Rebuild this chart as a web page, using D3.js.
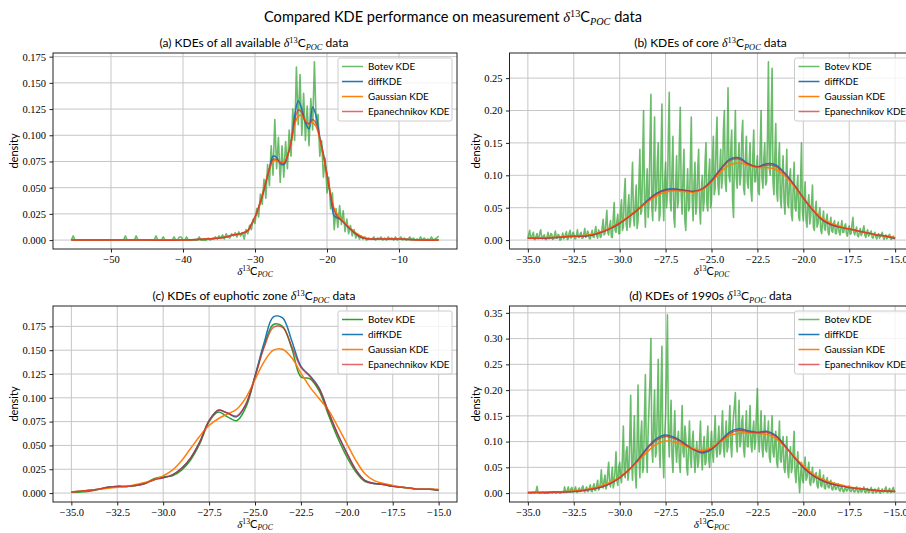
<!DOCTYPE html>
<html>
<head>
<meta charset="utf-8">
<script src="https://d3js.org/d3.v7.min.js"></script>
<style>
  body { margin: 0; background: #fff; }
  text { font-family: Lato, 'Open Sans', sans-serif; fill: #000; }
  .serif { font-family: 'Liberation Serif', 'DejaVu Serif', serif; }
</style>
</head>
<body>
<script>
// ---------- data ----------
var seriesNames = ['Botev KDE', 'diffKDE', 'Gaussian KDE', 'Epanechnikov KDE'];
var seriesColors = ['#2ca02c', '#1f77b4', '#ff7f0e', '#d62728'];

// panel (a): all available data
var gridA = [-55.5, -50, -45, -40, -37, -35, -34, -33, -32, -31,
  -30.5, -30, -29.5, -29, -28.5, -28, -27.5, -27, -26.5, -26,
  -25.5, -25, -24.5, -24, -23.5, -23, -22.5, -22, -21.5, -21,
  -20.5, -20, -19.5, -19, -18.5, -18, -17, -16, -15, -14,
  -12, -10, -7, -4.5];
var diffA = [0, 0, 0, 0, 0.001, 0.002, 0.003, 0.005, 0.006, 0.009,
  0.015, 0.022, 0.031, 0.042, 0.055, 0.068, 0.080, 0.079, 0.073, 0.072,
  0.080, 0.093, 0.118, 0.133, 0.125, 0.112, 0.106, 0.127, 0.118, 0.098,
  0.082, 0.063, 0.042, 0.023, 0.021, 0.019, 0.012, 0.006, 0.002, 0.001,
  0.001, 0.001, 0, 0];
var gaussA = [0, 0, 0, 0, 0.001, 0.002, 0.003, 0.005, 0.006, 0.009,
  0.015, 0.022, 0.031, 0.043, 0.056, 0.068, 0.075, 0.076, 0.074, 0.074,
  0.080, 0.093, 0.110, 0.118, 0.119, 0.114, 0.111, 0.112, 0.108, 0.096,
  0.080, 0.062, 0.044, 0.030, 0.024, 0.020, 0.013, 0.007, 0.003, 0.001,
  0.001, 0.001, 0, 0];
var epanA = [0, 0, 0, 0, 0.001, 0.002, 0.003, 0.005, 0.006, 0.009,
  0.015, 0.022, 0.031, 0.042, 0.055, 0.068, 0.077, 0.077, 0.074, 0.073,
  0.080, 0.093, 0.113, 0.124, 0.122, 0.113, 0.111, 0.115, 0.111, 0.097,
  0.081, 0.062, 0.043, 0.028, 0.022, 0.019, 0.012, 0.006, 0.002, 0.001,
  0.001, 0.001, 0, 0];
var botevAStart = -55.5, botevAStep = 0.25;
var botevA = [
  0, 0.004, 0, 0, 0, 0, 0, 0, 0, 0,
  0, 0, 0, 0, 0, 0, 0, 0, 0, 0,
  0, 0, 0, 0, 0, 0, 0, 0, 0, 0,
  0.004, 0, 0, 0, 0, 0, 0.004, 0, 0, 0,
  0, 0, 0, 0, 0, 0, 0, 0.004, 0, 0,
  0, 0.003, 0, 0, 0, 0, 0, 0.003, 0, 0,
  0.003, 0.003, 0, 0, 0.003, 0, 0, 0, 0, 0,
  0, 0.003, 0, 0, 0, 0, 0.002, 0, 0.001,
  0.001, 0.003, 0.001, 0.004, 0.002, 0.005, 0.001, 0.006, 0.003, 0.002,
  0.006, 0.004, 0.007, 0.003, 0.008, 0.004, 0.007, 0.001, 0.010, 0.006,
  0.014, 0.010, 0.020, 0.016, 0.030, 0.022, 0.044, 0.034, 0.058, 0.040,
  0.072, 0.052, 0.090, 0.062, 0.115, 0.068, 0.098, 0.055, 0.090, 0.060,
  0.094, 0.068, 0.105, 0.080, 0.125, 0.095, 0.165, 0.110, 0.158, 0.100,
  0.140, 0.095, 0.128, 0.090, 0.135, 0.105, 0.170, 0.110, 0.120, 0.080,
  0.095, 0.060, 0.078, 0.045, 0.060, 0.030, 0.045, 0.010, 0.030, 0.012,
  0.033, 0.015, 0.028, 0.008, 0.020, 0.006, 0.014, 0.004, 0.010, 0.002,
  0.006, 0.001, 0.004, 0.001, 0.003, 0.000, 0.002, 0.001,
  0.001, 0.003, 0.000, 0.002, 0.001, 0.003, 0.000, 0.002, 0.000, 0.003,
  0.001, 0.002, 0.000, 0.003, 0.000, 0.001, 0.003, 0.000, 0.002, 0.000,
  0.001, 0.003, 0.000, 0.002, 0.000, 0.001, 0.000, 0.003, 0.000, 0.002,
  0.000, 0.001, 0.000, 0.003, 0.000, 0.001, 0.002, 0.004];

// panels (b), (c), (d) share this grid
var gridCore = [-35, -34.5, -34, -33.5, -33, -32.5, -32, -31.5, -31, -30.5,
  -30, -29.5, -29, -28.5, -28, -27.5, -27, -26.5, -26, -25.5,
  -25, -24.5, -24, -23.5, -23, -22.5, -22, -21.5, -21, -20.5,
  -20, -19.5, -19, -18.5, -18, -17.5, -17, -16.5, -16, -15.5, -15];

// panel (b): core data
var diffB = [0.003, 0.003, 0.003, 0.004, 0.005, 0.006, 0.006, 0.008, 0.012, 0.018,
  0.026, 0.036, 0.048, 0.061, 0.072, 0.078, 0.079, 0.077, 0.075, 0.079,
  0.092, 0.110, 0.125, 0.127, 0.118, 0.113, 0.118, 0.116, 0.103, 0.085,
  0.065, 0.047, 0.032, 0.024, 0.020, 0.017, 0.014, 0.011, 0.008, 0.006, 0.003];
var gaussB = [0.003, 0.003, 0.004, 0.004, 0.005, 0.006, 0.007, 0.009, 0.013, 0.019,
  0.027, 0.037, 0.048, 0.059, 0.068, 0.074, 0.076, 0.075, 0.074, 0.078,
  0.090, 0.105, 0.116, 0.119, 0.116, 0.112, 0.112, 0.109, 0.099, 0.083,
  0.065, 0.048, 0.034, 0.026, 0.021, 0.017, 0.014, 0.011, 0.008, 0.006, 0.004];
var epanB = [0.003, 0.003, 0.003, 0.004, 0.005, 0.006, 0.006, 0.008, 0.012, 0.018,
  0.026, 0.036, 0.047, 0.060, 0.071, 0.077, 0.078, 0.077, 0.075, 0.079,
  0.091, 0.109, 0.123, 0.125, 0.117, 0.113, 0.116, 0.114, 0.102, 0.085,
  0.065, 0.047, 0.032, 0.024, 0.020, 0.017, 0.014, 0.011, 0.008, 0.006, 0.003];
var botevNoisyStart = -35, botevNoisyStep = 0.05;
var botevB = [
  0.002, 0.009, 0.015, 0.003, 0.004, 0.008, 0.012, 0.001, 0.001, 0.006, 0.010, 0.002, 0.003, 0.011, 0.016, 0.004, 0.002, 0.007, 0.008, 0.001,
  0.001, 0.006, 0.012, 0.002, 0.004, 0.010, 0.009, 0.001, 0.002, 0.008, 0.014, 0.003, 0.003, 0.009, 0.007, 0.000, 0.001, 0.005, 0.011, 0.002,
  0.004, 0.009, 0.013, 0.001, 0.002, 0.011, 0.015, 0.003, 0.005, 0.012, 0.010, 0.002, 0.002, 0.008, 0.016, 0.004, 0.004, 0.010, 0.012, 0.003,
  0.003, 0.010, 0.018, 0.004, 0.006, 0.014, 0.011, 0.002, 0.002, 0.009, 0.015, 0.005, 0.004, 0.013, 0.021, 0.006, 0.003, 0.016, 0.012, 0.004,
  0.006, 0.020, 0.032, 0.008, 0.010, 0.028, 0.046, 0.012, 0.008, 0.022, 0.030, 0.005, 0.004, 0.035, 0.058, 0.015, 0.012, 0.030, 0.040, 0.010,
  0.010, 0.045, 0.062, 0.015, 0.020, 0.070, 0.095, 0.025, 0.015, 0.050, 0.070, 0.020, 0.030, 0.080, 0.120, 0.035, 0.022, 0.060, 0.085, 0.018,
  0.030, 0.090, 0.140, 0.040, 0.045, 0.120, 0.200, 0.060, 0.020, 0.080, 0.110, 0.035, 0.060, 0.150, 0.225, 0.050, 0.030, 0.110, 0.190, 0.045,
  0.060, 0.120, 0.150, 0.030, 0.040, 0.130, 0.210, 0.070, 0.030, 0.090, 0.120, 0.050, 0.070, 0.160, 0.228, 0.060, 0.045, 0.110, 0.160, 0.035,
  0.020, 0.085, 0.130, 0.050, 0.060, 0.150, 0.205, 0.070, 0.040, 0.100, 0.140, 0.030, 0.015, 0.070, 0.110, 0.045, 0.050, 0.120, 0.190, 0.060,
  0.030, 0.090, 0.120, 0.040, 0.055, 0.110, 0.140, 0.050, 0.025, 0.080, 0.100, 0.045, 0.060, 0.120, 0.150, 0.055, 0.045, 0.100, 0.125, 0.050,
  0.060, 0.120, 0.160, 0.070, 0.080, 0.150, 0.190, 0.085, 0.070, 0.110, 0.140, 0.080, 0.095, 0.170, 0.200, 0.090, 0.075, 0.140, 0.235, 0.100,
  0.090, 0.140, 0.170, 0.060, 0.035, 0.130, 0.200, 0.095, 0.080, 0.120, 0.150, 0.085, 0.100, 0.160, 0.185, 0.080, 0.070, 0.130, 0.160, 0.090,
  0.080, 0.120, 0.150, 0.075, 0.060, 0.130, 0.170, 0.090, 0.090, 0.115, 0.130, 0.075, 0.070, 0.140, 0.200, 0.095, 0.080, 0.125, 0.150, 0.085,
  0.090, 0.160, 0.275, 0.110, 0.100, 0.190, 0.265, 0.090, 0.070, 0.130, 0.180, 0.075, 0.060, 0.120, 0.150, 0.065, 0.050, 0.100, 0.130, 0.060,
  0.040, 0.090, 0.140, 0.055, 0.050, 0.095, 0.110, 0.040, 0.030, 0.085, 0.120, 0.050, 0.045, 0.080, 0.100, 0.035, 0.030, 0.090, 0.150, 0.045,
  0.030, 0.065, 0.090, 0.030, 0.020, 0.055, 0.070, 0.025, 0.035, 0.060, 0.085, 0.020, 0.015, 0.045, 0.060, 0.020, 0.025, 0.040, 0.050, 0.015,
  0.010, 0.030, 0.045, 0.018, 0.015, 0.032, 0.040, 0.012, 0.008, 0.025, 0.035, 0.014, 0.012, 0.026, 0.030, 0.010, 0.010, 0.022, 0.028, 0.012,
  0.008, 0.020, 0.030, 0.012, 0.012, 0.022, 0.025, 0.010, 0.006, 0.016, 0.022, 0.009, 0.010, 0.024, 0.035, 0.012, 0.008, 0.015, 0.020, 0.007,
  0.005, 0.012, 0.018, 0.007, 0.010, 0.016, 0.022, 0.008, 0.004, 0.011, 0.016, 0.006, 0.008, 0.012, 0.014, 0.004, 0.003, 0.009, 0.012, 0.005,
  0.002, 0.007, 0.010, 0.003, 0.006, 0.009, 0.012, 0.004, 0.001, 0.005, 0.008, 0.002, 0.004, 0.007, 0.009, 0.002, 0.001, 0.004, 0.006, 0.002,
  0.002];

// panel (c): euphotic zone data
var botevC = [0.001, 0.001, 0.002, 0.004, 0.006, 0.007, 0.007, 0.008, 0.010, 0.015,
  0.017, 0.018, 0.024, 0.035, 0.052, 0.075, 0.085, 0.080, 0.076, 0.090,
  0.122, 0.155, 0.177, 0.175, 0.152, 0.122, 0.120, 0.107, 0.082, 0.058,
  0.038, 0.022, 0.012, 0.010, 0.009, 0.007, 0.006, 0.005, 0.004, 0.004, 0.003];
var diffC = [0.001, 0.002, 0.003, 0.004, 0.006, 0.007, 0.007, 0.008, 0.010, 0.014,
  0.016, 0.019, 0.026, 0.037, 0.054, 0.076, 0.087, 0.084, 0.080, 0.093,
  0.123, 0.158, 0.185, 0.184, 0.160, 0.133, 0.123, 0.110, 0.085, 0.062,
  0.042, 0.024, 0.013, 0.010, 0.009, 0.007, 0.006, 0.005, 0.004, 0.004, 0.003];
var gaussC = [0.001, 0.002, 0.003, 0.004, 0.005, 0.006, 0.007, 0.009, 0.011, 0.014,
  0.018, 0.024, 0.034, 0.047, 0.060, 0.071, 0.078, 0.083, 0.088, 0.100,
  0.119, 0.138, 0.150, 0.151, 0.142, 0.126, 0.111, 0.099, 0.087, 0.070,
  0.052, 0.034, 0.020, 0.013, 0.010, 0.008, 0.006, 0.005, 0.004, 0.004, 0.004];
var epanC = [0.001, 0.002, 0.003, 0.004, 0.006, 0.007, 0.007, 0.008, 0.010, 0.014,
  0.016, 0.019, 0.026, 0.037, 0.054, 0.076, 0.087, 0.084, 0.081, 0.093,
  0.122, 0.153, 0.174, 0.174, 0.154, 0.132, 0.122, 0.109, 0.085, 0.062,
  0.042, 0.024, 0.013, 0.010, 0.009, 0.007, 0.006, 0.005, 0.004, 0.004, 0.003];

// panel (d): 1990s data
var diffD = [0.001, 0.001, 0.001, 0.002, 0.002, 0.003, 0.005, 0.008, 0.012, 0.019,
  0.030, 0.045, 0.065, 0.088, 0.106, 0.113, 0.108, 0.097, 0.085, 0.078,
  0.085, 0.102, 0.119, 0.125, 0.121, 0.118, 0.120, 0.112, 0.092, 0.070,
  0.050, 0.035, 0.025, 0.018, 0.014, 0.011, 0.009, 0.007, 0.005, 0.004, 0.003];
var gaussD = [0.001, 0.001, 0.002, 0.002, 0.003, 0.004, 0.006, 0.009, 0.014, 0.021,
  0.031, 0.045, 0.062, 0.080, 0.095, 0.101, 0.099, 0.093, 0.086, 0.083,
  0.088, 0.101, 0.112, 0.116, 0.117, 0.116, 0.114, 0.106, 0.090, 0.071,
  0.053, 0.038, 0.028, 0.021, 0.016, 0.012, 0.009, 0.007, 0.005, 0.004, 0.003];
var epanD = [0.001, 0.001, 0.001, 0.002, 0.002, 0.003, 0.005, 0.008, 0.012, 0.019,
  0.030, 0.045, 0.064, 0.086, 0.103, 0.110, 0.106, 0.096, 0.085, 0.080,
  0.086, 0.101, 0.116, 0.122, 0.119, 0.117, 0.118, 0.110, 0.091, 0.070,
  0.050, 0.035, 0.025, 0.018, 0.014, 0.011, 0.009, 0.007, 0.005, 0.004, 0.003];
var botevD = [
  0.000, 0.000, 0.001, 0.000, 0.000, 0.001, 0.002, 0.000, 0.001, 0.004, 0.013, 0.002, 0.000, 0.000, 0.001, 0.000, 0.002, 0.001, 0.000, 0.000,
  0.001, 0.000, 0.000, 0.001, 0.002, 0.000, 0.001, 0.000, 0.003, 0.001, 0.000, 0.000, 0.002, 0.001, 0.001, 0.000, 0.000, 0.002, 0.003, 0.001,
  0.012, 0.004, 0.001, 0.006, 0.012, 0.003, 0.002, 0.009, 0.011, 0.002, 0.003, 0.008, 0.012, 0.002, 0.001, 0.007, 0.010, 0.003, 0.004, 0.011,
  0.014, 0.005, 0.002, 0.008, 0.012, 0.003, 0.004, 0.010, 0.016, 0.004, 0.003, 0.012, 0.018, 0.005, 0.006, 0.015, 0.025, 0.006, 0.008, 0.020,
  0.045, 0.015, 0.010, 0.025, 0.035, 0.008, 0.015, 0.040, 0.060, 0.020, 0.012, 0.030, 0.050, 0.010, 0.020, 0.045, 0.080, 0.025, 0.015, 0.050,
  0.060, 0.030, 0.020, 0.070, 0.130, 0.040, 0.030, 0.080, 0.090, 0.025, 0.040, 0.110, 0.190, 0.060, 0.025, 0.090, 0.150, 0.040, 0.010, 0.100,
  0.210, 0.070, 0.030, 0.110, 0.140, 0.040, 0.050, 0.150, 0.230, 0.080, 0.040, 0.120, 0.170, 0.220, 0.300, 0.090, 0.060, 0.140, 0.200, 0.070,
  0.080, 0.170, 0.260, 0.090, 0.050, 0.200, 0.285, 0.080, 0.030, 0.110, 0.150, 0.240, 0.346, 0.120, 0.070, 0.130, 0.180, 0.070, 0.040, 0.110,
  0.160, 0.090, 0.060, 0.100, 0.120, 0.060, 0.040, 0.110, 0.170, 0.080, 0.070, 0.130, 0.110, 0.050, 0.035, 0.090, 0.140, 0.070, 0.050, 0.100,
  0.120, 0.070, 0.040, 0.080, 0.100, 0.050, 0.060, 0.100, 0.140, 0.070, 0.045, 0.090, 0.110, 0.055, 0.060, 0.100, 0.130, 0.065, 0.050, 0.090,
  0.120, 0.080, 0.060, 0.110, 0.150, 0.085, 0.070, 0.100, 0.130, 0.075, 0.080, 0.120, 0.160, 0.090, 0.070, 0.110, 0.140, 0.080, 0.090, 0.130,
  0.170, 0.095, 0.070, 0.120, 0.150, 0.170, 0.195, 0.100, 0.080, 0.130, 0.180, 0.090, 0.100, 0.140, 0.150, 0.085, 0.070, 0.120, 0.160, 0.090,
  0.090, 0.130, 0.170, 0.095, 0.080, 0.120, 0.140, 0.085, 0.100, 0.160, 0.203, 0.110, 0.080, 0.120, 0.160, 0.090, 0.070, 0.110, 0.150, 0.085,
  0.080, 0.110, 0.140, 0.070, 0.060, 0.110, 0.150, 0.080, 0.070, 0.100, 0.120, 0.060, 0.050, 0.095, 0.140, 0.065, 0.060, 0.090, 0.110, 0.050,
  0.040, 0.080, 0.110, 0.045, 0.030, 0.070, 0.090, 0.040, 0.050, 0.085, 0.120, 0.040, 0.020, 0.055, 0.080, 0.030, 0.001, 0.035, 0.060, 0.025,
  0.020, 0.050, 0.070, 0.025, 0.030, 0.045, 0.060, 0.020, 0.015, 0.035, 0.050, 0.020, 0.025, 0.035, 0.040, 0.015, 0.010, 0.030, 0.045, 0.015,
  0.012, 0.025, 0.035, 0.010, 0.008, 0.020, 0.030, 0.012, 0.010, 0.018, 0.025, 0.008, 0.006, 0.014, 0.020, 0.007, 0.008, 0.013, 0.018, 0.006,
  0.004, 0.010, 0.015, 0.005, 0.002, 0.008, 0.012, 0.004, 0.005, 0.010, 0.014, 0.004, 0.003, 0.007, 0.010, 0.003, 0.002, 0.008, 0.012, 0.003,
  0.001, 0.006, 0.010, 0.002, 0.003, 0.008, 0.012, 0.002, 0.001, 0.006, 0.009, 0.001, 0.002, 0.007, 0.011, 0.001, 0.000, 0.005, 0.008, 0.001,
  0.002, 0.006, 0.010, 0.001, 0.000, 0.005, 0.008, 0.002, 0.003, 0.008, 0.012, 0.002, 0.001, 0.006, 0.009, 0.001, 0.002, 0.007, 0.011, 0.003,
  0.002];

// ticks
var xTicksA = [-50, -40, -30, -20, -10];
var xTicksCore = [-35, -32.5, -30, -27.5, -25, -22.5, -20, -17.5, -15];
var yTicksAC = [0, 0.025, 0.05, 0.075, 0.1, 0.125, 0.15, 0.175];
var yTicksB = [0, 0.05, 0.1, 0.15, 0.2, 0.25];
var yTicksD = [0, 0.05, 0.1, 0.15, 0.2, 0.25, 0.3, 0.35];

// ---------- layout ----------
var width = 906, height = 533;
var plotW = 404, plotH = 196;

function noisyX(vals, start, step) { return vals.map(function (v, i) { return start + i * step; }); }

var panels = [
  { title: '(a) KDEs of all available ', x0: 53, y0: 53, xDom: [-58.05, -1.95], yDom: [-0.0085, 0.1785],
    xTicks: xTicksA, xFmt: d3.format('d'), yTicks: yTicksAC, yFmt: d3.format('.3f'),
    botevX: noisyX(botevA, botevAStart, botevAStep), botevY: botevA, botevSmooth: false,
    grid: gridA, smooth: [diffA, gaussA, epanA], labelDx: 39 },
  { title: '(b) KDEs of core ', x0: 509.5, y0: 53, xDom: [-36, -14], yDom: [-0.01375, 0.28875],
    xTicks: xTicksCore, xFmt: d3.format('.1f'), yTicks: yTicksB, yFmt: d3.format('.2f'),
    botevX: noisyX(botevB, botevNoisyStart, botevNoisyStep), botevY: botevB, botevSmooth: false,
    grid: gridCore, smooth: [diffB, gaussB, epanB], labelDx: 33 },
  { title: '(c) KDEs of euphotic zone ', x0: 53, y0: 306, xDom: [-36, -14], yDom: [-0.0094, 0.1964],
    xTicks: xTicksCore, xFmt: d3.format('.1f'), yTicks: yTicksAC, yFmt: d3.format('.3f'),
    botevX: gridCore, botevY: botevC, botevSmooth: true,
    grid: gridCore, smooth: [diffC, gaussC, epanC], labelDx: 39 },
  { title: '(d) KDEs of 1990s ', x0: 509.5, y0: 306, xDom: [-36, -14], yDom: [-0.0173, 0.3633],
    xTicks: xTicksCore, xFmt: d3.format('.1f'), yTicks: yTicksD, yFmt: d3.format('.2f'),
    botevX: noisyX(botevD, botevNoisyStart, botevNoisyStep), botevY: botevD, botevSmooth: false,
    grid: gridCore, smooth: [diffD, gaussD, epanD], labelDx: 33 }
];

var svg = d3.select('body').append('svg')
  .attr('width', width).attr('height', height)
  .style('display', 'block');

// writes delta^13 C_POC into a text element
function addMath(t, fs) {
  t.append('tspan').attr('class', 'serif').attr('font-style', 'italic').text('δ');
  t.append('tspan').attr('class', 'serif').attr('font-size', fs * 0.7).attr('dy', -fs * 0.36).text('13');
  t.append('tspan').attr('dy', fs * 0.36).text('C');
  t.append('tspan').attr('class', 'serif').attr('font-style', 'italic')
    .attr('font-size', fs * 0.7).attr('dy', fs * 0.22).text('POC');
}

// main title
var title = svg.append('text').attr('x', 453).attr('y', 22)
  .attr('text-anchor', 'middle').attr('font-size', 14.6);
title.append('tspan').text('Compared KDE performance on measurement ');
addMath(title, 14.6);
title.append('tspan').attr('dy', -14.6 * 0.22).text(' data');

panels.forEach(function (p) {
  var x = d3.scaleLinear().domain(p.xDom).range([p.x0, p.x0 + plotW]);
  var y = d3.scaleLinear().domain(p.yDom).range([p.y0 + plotH, p.y0]);
  var g = svg.append('g');

  // grid
  g.selectAll('.vgrid').data(p.xTicks).enter().append('line')
    .attr('x1', function (d) { return x(d); }).attr('x2', function (d) { return x(d); })
    .attr('y1', p.y0).attr('y2', p.y0 + plotH)
    .attr('stroke', '#c6c6c6').attr('stroke-width', 1);
  g.selectAll('.hgrid').data(p.yTicks).enter().append('line')
    .attr('y1', function (d) { return y(d); }).attr('y2', function (d) { return y(d); })
    .attr('x1', p.x0).attr('x2', p.x0 + plotW)
    .attr('stroke', '#c6c6c6').attr('stroke-width', 1);

  // Botev KDE
  var botevPts = p.botevY.map(function (v, i) { return [p.botevX[i], v]; });
  var line = d3.line().x(function (d) { return x(d[0]); }).y(function (d) { return y(d[1]); });
  g.append('path').datum(botevPts)
    .attr('d', line.curve(p.botevSmooth ? d3.curveCatmullRom : d3.curveLinear))
    .attr('fill', 'none').attr('stroke', seriesColors[0])
    .attr('stroke-opacity', p.botevSmooth ? 1 : 0.7)
    .attr('stroke-width', p.botevSmooth ? 1.5 : 1.6).attr('stroke-linejoin', 'round');

  // smooth KDEs
  p.smooth.forEach(function (vals, k) {
    var pts = vals.map(function (v, i) { return [p.grid[i], v]; });
    g.append('path').datum(pts)
      .attr('d', line.curve(d3.curveCatmullRom))
      .attr('fill', 'none').attr('stroke', seriesColors[k + 1])
      .attr('stroke-opacity', k === 2 ? 0.7 : 1)
      .attr('stroke-width', 1.5);
  });

  // axes
  var xa = g.append('g').attr('transform', 'translate(0,' + (p.y0 + plotH) + ')')
    .call(d3.axisBottom(x).tickValues(p.xTicks).tickFormat(p.xFmt).tickSize(3.5).tickPadding(3.5));
  var ya = g.append('g').attr('transform', 'translate(' + p.x0 + ',0)')
    .call(d3.axisLeft(y).tickValues(p.yTicks).tickFormat(p.yFmt).tickSize(3.5).tickPadding(3.5));
  [xa, ya].forEach(function (a) {
    a.attr('font-family', "'Liberation Serif', 'DejaVu Serif', serif").attr('font-size', 10.5);
    a.select('.domain').remove();
    a.selectAll('.tick line').attr('stroke', '#222');
    a.selectAll('.tick text')
      .style('font-family', "'Liberation Serif', 'DejaVu Serif', serif")
      .style('font-size', '10.5px');
  });

  // frame
  g.append('rect').attr('x', p.x0).attr('y', p.y0).attr('width', plotW).attr('height', plotH)
    .attr('fill', 'none').attr('stroke', '#222').attr('stroke-width', 1);

  // subplot title
  var st = g.append('text').attr('x', p.x0 + plotW / 2 - 1).attr('y', p.y0 - 6)
    .attr('text-anchor', 'middle').attr('font-size', 12);
  st.append('tspan').text(p.title);
  addMath(st, 12);
  st.append('tspan').attr('dy', -12 * 0.22).text(' data');

  // x label
  var xl = g.append('text').attr('x', p.x0 + plotW / 2).attr('y', p.y0 + plotH + 26)
    .attr('text-anchor', 'middle').attr('font-size', 11);
  addMath(xl, 11);

  // y label
  g.append('text')
    .attr('transform', 'translate(' + (p.x0 - p.labelDx + 3.5) + ',' + (p.y0 + plotH / 2) + ') rotate(-90)')
    .attr('text-anchor', 'middle').attr('font-size', 11).text('density');

  // legend
  var lx = p.x0 + plotW - 119, ly = p.y0 + 5;
  var lg = g.append('g').attr('transform', 'translate(' + lx + ',' + ly + ')');
  lg.append('rect').attr('width', 114).attr('height', 63).attr('rx', 2)
    .attr('fill', '#fff').attr('fill-opacity', 0.8)
    .attr('stroke', '#cccccc').attr('stroke-width', 1);
  seriesNames.forEach(function (name, k) {
    var yy = 8.5 + k * 15;
    var op = (k === 0 && !p.botevSmooth) || k === 3 ? 0.7 : 1;
    lg.append('line').attr('x1', 4).attr('x2', 25).attr('y1', yy).attr('y2', yy)
      .attr('stroke', seriesColors[k]).attr('stroke-opacity', op).attr('stroke-width', 1.5);
    lg.append('text').attr('x', 30).attr('y', yy + 3.5).attr('font-size', 9.8).text(name);
  });
});
</script>
</body>
</html>
